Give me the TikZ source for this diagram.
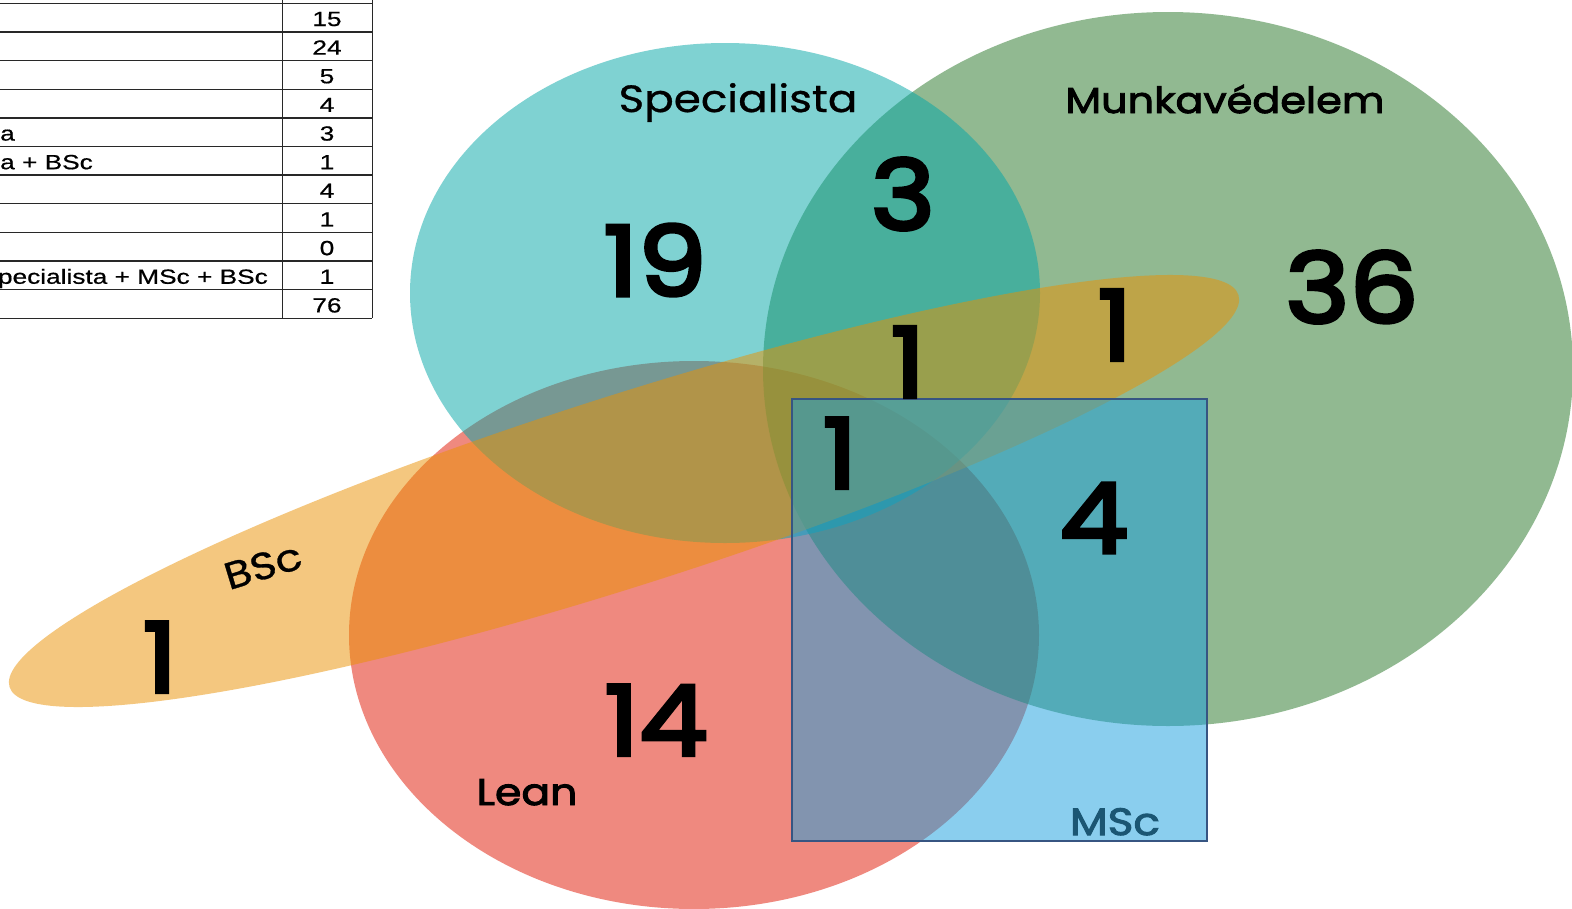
\documentclass[tikz,border=0pt]{standalone}
\usepackage{fontspec}
\setmainfont{Liberation Sans}
\newfontfamily\tabfont[FakeStretch=1.28, FakeBold=0.6]{Liberation Sans}
\newfontfamily\venfont[FakeStretch=1.15, FakeBold=0.8]{Poppins}
\newfontfamily\venheavy[FakeStretch=1.15, FakeBold=2.6]{Poppins}
\newfontfamily\numfont[FakeStretch=1.12, FakeBold=4]{Poppins}
\definecolor{specC}{RGB}{0,167,167}
\definecolor{munkaC}{RGB}{37,117,37}
\definecolor{leanC}{RGB}{225,21,1}
\definecolor{bscC}{RGB}{235,145,0}
\definecolor{mscC}{RGB}{23,159,223}
\definecolor{mscLine}{RGB}{55,85,130}
\definecolor{mscText}{RGB}{27,86,115}
\definecolor{tabLine}{RGB}{40,40,40}
\begin{document}
\begin{tikzpicture}[x=1pt,y=-1pt,
  setshape/.style={fill opacity=0.5},
  setlabel/.style={font=\venfont\fontsize{38}{40}\selectfont, text=black, inner sep=0pt, anchor=base},
  num/.style={font=\numfont\fontsize{97}{100}\selectfont, text=black, inner sep=0pt},
  tabnum/.style={font=\tabfont\fontsize{20.5}{22}\selectfont, inner sep=0pt, anchor=base},
  tabtxt/.style={font=\tabfont\fontsize{20.5}{22}\selectfont, inner sep=0pt},
  tabline/.style={draw=tabLine, line width=1.3pt}]
\useasboundingbox (0,0) rectangle (1572,908);
\clip (0,0) rectangle (1572,908);
\fill[white] (0,0) rectangle (1572,908);

% table
\foreach \i in {0,...,11}
  \draw[tabline] (0,{3.3+28.64*\i}) -- (372.3,{3.3+28.64*\i});
\draw[tabline] (282.3,0) -- (282.3,318.3);
\draw[tabline] (372.3,0) -- (372.3,318.3);
\foreach \v [count=\i from 0] in {15,24,5,4,3,1,4,1,0,1,76}
  \node[tabnum] (tn\i) at (327,{26.0+28.64*\i}) {\v};
\node[tabtxt, anchor=base west] (tt4) at (0,{26.0+28.64*4}) {a};
\node[tabtxt, anchor=base west] (tt5) at (0,{26.0+28.64*5}) {a + BSc};
\node[tabtxt, anchor=base east] (tt9) at (268,{26.0+28.64*9}) {pecialista + MSc + BSc};

% sets
\fill[leanC, setshape] (694,635) ellipse [x radius=345pt, y radius=274pt];
\fill[munkaC, setshape] (1168,369) ellipse [x radius=405pt, y radius=357pt];
\fill[specC, setshape] (725,293) ellipse [x radius=315pt, y radius=250pt];
\fill[bscC, setshape, rotate around={17.7:(624,491)}] (624,491) ellipse [x radius=645pt, y radius=95pt];
\filldraw[fill=mscC, setshape, draw=mscLine, line width=1.3pt] (792,399) rectangle (1207,841);

% labels
\node[setlabel] (lspec) at (738,112) {Specialista};
\node[setlabel, font=\venheavy\fontsize{36}{40}\selectfont] (lmunka) at (1225,113) {Munkavédelem};
\node[setlabel, font=\venheavy\fontsize{37}{40}\selectfont] (llean) at (527,805) {Lean};
\node[setlabel, text=mscText, font=\venheavy\fontsize{38}{40}\selectfont] (lmsc) at (1115,835) {MSc};
\node[setlabel, anchor=center, rotate=17] (lbsc) at (263,566) {BSc};

% counts
\node[num] (c19) at (655,260) {19};
\node[num] (c3) at (903,194) {3};
\node[num] (c36) at (1352,287) {36};
\node[num] (c1a) at (1115,325) {1};
\node[num] (c1b) at (908,362) {1};
\node[num] (c1c) at (840,453) {1};
\node[num] (c4) at (1094,518) {4};
\node[num] (c14) at (656,720) {14};
\node[num] (c1d) at (160,657) {1};
\end{tikzpicture}
\end{document}
